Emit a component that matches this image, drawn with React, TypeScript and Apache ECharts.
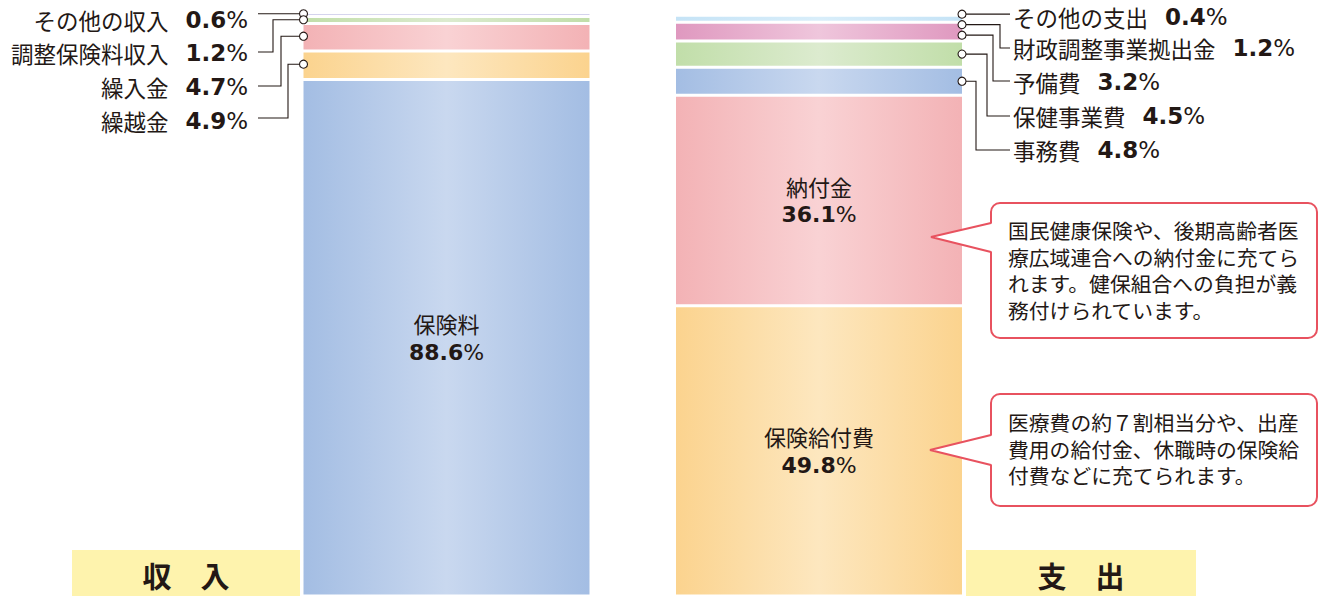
import React, { useEffect, useRef } from 'react';
import * as echarts from 'echarts';

// ---------- data (stack order: bottom to top) ----------
const categories = ['収入', '支出'];

const incomeNames = ['保険料', '繰越金', '繰入金', '調整保険料収入', 'その他の収入'];
const incomeValues = [88.6, 4.9, 4.7, 1.2, 0.6];

const expenseNames = ['保険給付費', '納付金', '事務費', '保健事業費', '予備費', '財政調整事業拠出金', 'その他の支出'];
const expenseValues = [49.8, 36.1, 4.8, 4.5, 3.2, 1.2, 0.4];

const noteNafu = ['国民健康保険や、後期高齢者医', '療広域連合への納付金に充てら', 'れます。健保組合への負担が義', '務付けられています。'];
const noteKyufu = ['医療費の約７割相当分や、出産', '費用の給付金、休職時の保険給', '付費などに充てられます。'];

const bottomTitles = ['収　入', '支　出'];

// ---------- styles ----------
const JP = '"Noto Sans CJK JP", "Noto Sans", sans-serif';
const NUM = '"DejaVu Sans", sans-serif';
const INK = '#231815';
const RED = '#e8525f';

const palettes: Record<string, [string, string]> = {
  blue: ['#a3bde3', '#c9d8ef'],
  yellow: ['#fbd38e', '#fde7bf'],
  pink: ['#f3b2b5', '#f9d2d4'],
  green: ['#c1dea9', '#dcebcf'],
  lavender: ['#a7a5da', '#bdbbe4'],
  sky: ['#c5e3f6', '#d9eefa'],
  magenta: ['#df98bf', '#efc6dc'],
};
const incomeColors = ['blue', 'yellow', 'pink', 'green', 'lavender'];
const expenseColors = ['yellow', 'pink', 'blue', 'green', 'magenta', 'sky', 'lavender'];

const BAR_W = 289;

function grad(key: string) {
  const [e, c] = palettes[key];
  return new echarts.graphic.LinearGradient(0, 0, 1, 0, [
    { offset: 0, color: e },
    { offset: 0.5, color: c },
    { offset: 1, color: e },
  ]);
}

function makeSeries(names: string[], values: number[], colors: string[], catIdx: number) {
  return names.map((name, i) => {
    const v = values[i];
    const data = catIdx === 0 ? [v, '-'] : ['-', v];
    const big = v > 30;
    return {
      type: 'bar',
      name,
      stack: 'total',
      barWidth: BAR_W,
      data,
      itemStyle: { color: grad(colors[i]), borderColor: '#ffffff', borderWidth: 1.5 },
      label: big
        ? {
            show: true,
            position: 'inside',
            formatter: `{n|${name}}\n{v|${v.toFixed(1)}}{p|%}`,
            rich: {
              n: { fontSize: 22, fontFamily: JP, color: INK, lineHeight: 29 },
              v: { fontSize: 22, fontFamily: NUM, fontWeight: 'bold', color: INK, lineHeight: 29 },
              p: { fontSize: 22, fontFamily: NUM, color: INK, lineHeight: 29 },
            },
          }
        : { show: false },
      emphasis: { disabled: true },
    };
  });
}

// layout of side labels (top to bottom)
const leftTextY = [20, 53, 87, 121];
const leftLineY = [null, 52, 86, 118];
const leftElbowX = [null, 273, 281, 288];
const rightTextY = [17, 48, 82, 116, 150];
const rightLineY = [null, 48, 81, 116, 150];
const rightElbowX = [null, 1000, 993, 987, 976];

function centers(values: number[]) {
  let acc = 0;
  return values.map((v) => {
    const c = acc + v / 2;
    acc += v;
    return c;
  });
}

export default function App() {
  const ref = useRef<HTMLDivElement>(null);

  useEffect(() => {
    if (!ref.current) return;
    document.body.style.margin = '0';
    const chart = echarts.init(ref.current, null, { renderer: 'svg' });
    const gridW = 745;
    const gridLeft = 260.25;
    chart.setOption({
      animation: false,
      backgroundColor: '#ffffff',
      grid: { left: gridLeft, width: gridW, top: 13, bottom: 0 },
      xAxis: { type: 'category', data: categories, show: false },
      yAxis: { type: 'value', min: 0, max: 100, show: false },
      tooltip: { show: false },
      series: [
        ...makeSeries(incomeNames, incomeValues, incomeColors, 0),
        ...makeSeries(expenseNames, expenseValues, expenseColors, 1),
      ],
    });

    const graphics: any[] = [];
    const r = 4;
    const lineStyle = { stroke: INK, lineWidth: 1.1, fill: null };

    const sideLabel = (name: string, v: number) =>
      `{a|${name}}{g|}{b|${v.toFixed(1)}}{c|%}`;
    const sideRich = {
      a: { fontSize: 22.5, fontFamily: JP, fill: INK, color: INK },
      g: { width: 17 },
      b: { fontSize: 23, fontFamily: NUM, fontWeight: 'bold', fill: INK, color: INK },
      c: { fontSize: 23, fontFamily: NUM, fill: INK, color: INK },
    };

    // ---- left (income) side labels ----
    {
      const cs = centers(incomeValues);
      const idx = [4, 3, 2, 1];
      let prev = -Infinity;
      idx.forEach((si, k) => {
        const p = chart.convertToPixel({ gridIndex: 0 }, [categories[0], cs[si]]) as number[];
        const cx = p[0] - BAR_W / 2 + 1.5;
        let cy = Math.max(p[1] - 1, prev + 6);
        prev = cy;
        const pts =
          leftElbowX[k] == null
            ? [[258, cy], [cx - r, cy]]
            : [[258, leftLineY[k] as number], [leftElbowX[k] as number, leftLineY[k] as number], [leftElbowX[k] as number, cy], [cx - r, cy]];
        graphics.push({ type: 'polyline', shape: { points: pts }, style: lineStyle, z: 10 });
        graphics.push({ type: 'circle', shape: { cx, cy, r }, style: { fill: '#fff', stroke: INK, lineWidth: 1.1 }, z: 11 });
        graphics.push({
          type: 'text',
          x: 248,
          y: leftTextY[k],
          z: 12,
          style: { text: sideLabel(incomeNames[si], incomeValues[si]), rich: sideRich, align: 'right', verticalAlign: 'middle', fill: INK },
        });
      });
    }

    // ---- right (expense) side labels ----
    {
      const cs = centers(expenseValues);
      const idx = [6, 5, 4, 3, 2];
      let prev = -Infinity;
      idx.forEach((si, k) => {
        const p = chart.convertToPixel({ gridIndex: 0 }, [categories[1], cs[si]]) as number[];
        const cx = p[0] + BAR_W / 2 - 1.5;
        let cy = Math.max(p[1], prev + 10.5);
        prev = cy;
        const pts =
          rightElbowX[k] == null
            ? [[cx + r, cy], [1010, cy]]
            : [[cx + r, cy], [rightElbowX[k] as number, cy], [rightElbowX[k] as number, rightLineY[k] as number], [1010, rightLineY[k] as number]];
        graphics.push({ type: 'polyline', shape: { points: pts }, style: lineStyle, z: 10 });
        graphics.push({ type: 'circle', shape: { cx, cy, r }, style: { fill: '#fff', stroke: INK, lineWidth: 1.1 }, z: 11 });
        graphics.push({
          type: 'text',
          x: 1013,
          y: rightTextY[k],
          z: 12,
          style: { text: sideLabel(expenseNames[si], expenseValues[si]), rich: sideRich, align: 'left', verticalAlign: 'middle', fill: INK },
        });
      });
    }

    // ---- callouts ----
    const callout = (x: number, y: number, w: number, h: number, tip: number[], b0: number, b1: number, lines: string[], firstY: number) => {
      graphics.push({ type: 'rect', shape: { x, y, width: w, height: h, r: 9 }, style: { fill: '#fff', stroke: RED, lineWidth: 2 }, z: 20 });
      graphics.push({ type: 'polygon', shape: { points: [[x + 3, b0], tip, [x + 3, b1]] }, style: { fill: '#fff', stroke: null }, z: 21 });
      graphics.push({ type: 'polyline', shape: { points: [[x, b0], tip, [x, b1]] }, style: { stroke: RED, lineWidth: 2, fill: null }, z: 22 });
      lines.forEach((ln, i) => {
        graphics.push({
          type: 'text',
          x: x + 17,
          y: firstY + i * 26.7,
          z: 23,
          style: { text: ln, fontSize: 20.8, fontFamily: JP, fill: INK, align: 'left', verticalAlign: 'middle' },
        });
      });
    };
    callout(991, 203, 326, 135, [931, 237], 223, 252, noteNafu, 230);
    callout(991, 394, 326, 112, [930, 450], 435, 465, noteKyufu, 422);

    // ---- bottom titles ----
    const titleBox = (x: number, w: number, text: string) => {
      graphics.push({ type: 'rect', shape: { x, y: 550, width: w, height: 46 }, style: { fill: '#fef3ad' }, z: 5 });
      graphics.push({
        type: 'text',
        x: x + w / 2,
        y: 575,
        z: 6,
        style: { text, fontSize: 29, fontWeight: 'bold', fontFamily: JP, fill: INK, align: 'center', verticalAlign: 'middle' },
      });
    };
    titleBox(72, 228, bottomTitles[0]);
    titleBox(966, 230, bottomTitles[1]);

    chart.setOption({ graphic: { elements: graphics } });

    return () => chart.dispose();
  }, []);

  return <div ref={ref} style={{ width: 1319, height: 596, background: '#ffffff' }} />;
}
